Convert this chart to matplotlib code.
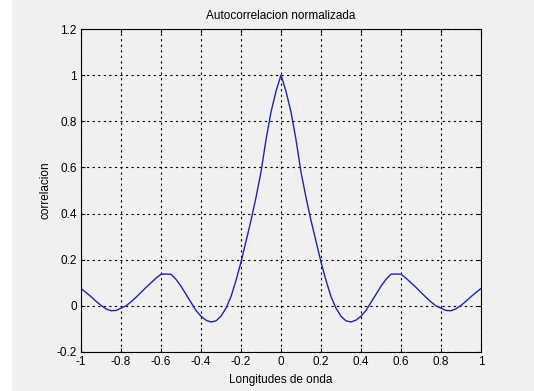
import matplotlib
matplotlib.use("Agg")
import matplotlib.pyplot as plt
from matplotlib.ticker import FormatStrFormatter
from matplotlib.patches import Rectangle

# longitudes de onda (retardo normalizado) y autocorrelacion
lags = [-1.000, -0.975, -0.950, -0.925, -0.900, -0.875, -0.850, -0.825, -0.800, -0.775,
        -0.750, -0.725, -0.700, -0.675, -0.650, -0.625, -0.600, -0.575, -0.550, -0.525,
        -0.500, -0.475, -0.450, -0.425, -0.400, -0.375, -0.350, -0.325, -0.300, -0.275,
        -0.250, -0.225, -0.200, -0.175, -0.150, -0.125, -0.100, -0.075, -0.050, -0.025,
        0.000,
        0.025, 0.050, 0.075, 0.100, 0.125, 0.150, 0.175, 0.200, 0.225, 0.250,
        0.275, 0.300, 0.325, 0.350, 0.375, 0.400, 0.425, 0.450, 0.475, 0.500,
        0.525, 0.550, 0.575, 0.600, 0.625, 0.650, 0.675, 0.700, 0.725, 0.750,
        0.775, 0.800, 0.825, 0.850, 0.875, 0.900, 0.925, 0.950, 0.975, 1.000]
corr = [0.075, 0.058, 0.040, 0.020, 0.002, -0.013, -0.021, -0.020, -0.010, 0.000,
        0.017, 0.037, 0.058, 0.080, 0.100, 0.120, 0.137, 0.138, 0.137, 0.115,
        0.085, 0.050, 0.015, -0.020, -0.045, -0.062, -0.070, -0.065, -0.045, -0.010,
        0.040, 0.110, 0.190, 0.280, 0.370, 0.470, 0.580, 0.720, 0.840, 0.930,
        1.000,
        0.930, 0.840, 0.720, 0.580, 0.470, 0.370, 0.280, 0.190, 0.110, 0.040,
        -0.010, -0.045, -0.065, -0.070, -0.062, -0.045, -0.020, 0.015, 0.050, 0.085,
        0.115, 0.137, 0.138, 0.137, 0.120, 0.100, 0.080, 0.058, 0.037, 0.017,
        0.000, -0.010, -0.020, -0.021, -0.013, 0.002, 0.020, 0.040, 0.058, 0.075]

xticks = [-1, -0.8, -0.6, -0.4, -0.2, 0, 0.2, 0.4, 0.6, 0.8, 1]
yticks = [-0.2, 0, 0.2, 0.4, 0.6, 0.8, 1, 1.2]

bg = '#f0f0f0'
plt.rcParams['font.family'] = ['Liberation Sans', 'DejaVu Sans']

fig = plt.figure(figsize=(5.34, 3.91), dpi=100, facecolor=bg)
# franja blanca a la izquierda de la captura
fig.patches.append(Rectangle((0, 0), 12 / 534, 1, transform=fig.transFigure,
                             facecolor='white', edgecolor='none', zorder=0))
ax = fig.add_axes([81 / 534, 1 - 352 / 391, 400 / 534, 323 / 391])
ax.set_facecolor(bg)

ax.plot(lags, corr, color='#2222b0', linewidth=1.0)

ax.set_xlim(-1, 1)
ax.set_ylim(-0.2, 1.2)
ax.set_xticks(xticks)
ax.set_yticks(yticks)
ax.xaxis.set_major_formatter(FormatStrFormatter('%g'))
ax.yaxis.set_major_formatter(FormatStrFormatter('%g'))
ax.grid(True, color='black', linestyle=(0, (2, 3)), linewidth=0.8)
ax.tick_params(direction='in', length=3, labelsize=8.5, colors='black',
               top=True, right=True, pad=3)
for s in ax.spines.values():
    s.set_linewidth(0.8)

ax.set_title('Autocorrelacion normalizada', fontsize=8.5, pad=7)
ax.set_xlabel('Longitudes de onda', fontsize=8.5, labelpad=4)
ax.set_ylabel('correlacion', fontsize=8.5, labelpad=4)

fig.savefig('out.png', dpi=100, facecolor=bg)
